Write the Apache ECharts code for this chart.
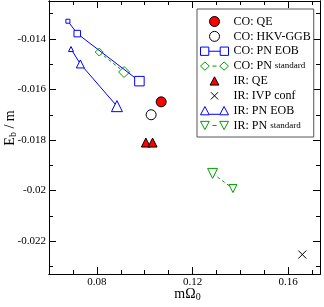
<!DOCTYPE html>
<html>
<head>
<meta charset="utf-8">
<script src="https://cdn.jsdelivr.net/npm/echarts@6/dist/echarts.min.js"></script>
<style>html,body{margin:0;padding:0;background:#fff}#c{width:324px;height:307px}</style>
</head>
<body>
<div id="c"></div>
<script>
// ---- data ----
const seriesNames = ['CO: QE', 'CO: HKV-GGB', 'CO: PN EOB', 'CO: PN standard', 'IR: QE', 'IR: IVP conf', 'IR: PN EOB', 'IR: PN standard'];
const coQE = [[0.1069, -0.01649]];
const coHKV = [[0.1027, -0.0170]];
const coPNEOB = [[0.0679, -0.0133], [0.0718, -0.01379], [0.0978, -0.01567]];
const coPNStd = [[0.0810, -0.01452], [0.0914, -0.01531]];
const irQE = [[0.1005, -0.0181], [0.1033, -0.0181]];
const irIVP = [[0.1659, -0.02253]];
const irPNEOB = [[0.0692, -0.0144], [0.0731, -0.01499], [0.0884, -0.01666]];
const irPNStd = [[0.1284, -0.01932], [0.1369, -0.01992]];
const xMajorTicks = [0.08, 0.12, 0.16];
const xMinorTicks = [0.06, 0.07, 0.08, 0.09, 0.10, 0.11, 0.12, 0.13, 0.14, 0.15, 0.16, 0.17];
const yMajorTicks = [-0.022, -0.020, -0.018, -0.016, -0.014];
const yMinorTicks = [-0.023, -0.022, -0.021, -0.020, -0.019, -0.018, -0.017, -0.016, -0.015, -0.014, -0.013];

// ---- styles (marker sizes per point) ----
const coPNEOBSizes = [4, 6.5, 9.5];
const coPNStdSizes = [8, 11];
const irPNEOBSizes = [5, 8, 11];
const irPNStdSizes = [10, 8];

const XMIN = 0.06, XMAX = 0.1733, YMIN = -0.0233, YMAX = -0.0125;
const FONT = 'Liberation Serif';
const BLUE = '#0000ff', GREEN = '#00a000', RED = '#ff0000';

function sized(arr, sizes) { return arr.map((p, i) => ({ value: p, symbolSize: sizes[i] })); }
const fmt = v => String(+(+v).toFixed(3));
const nameRich = {
  a: { fontFamily: FONT, fontSize: 14, color: '#000', lineHeight: 16 },
  s: { fontFamily: FONT, fontSize: 10, color: '#000', lineHeight: 16, padding: [7, 0, 0, 0] }
};

function xAxis(pos, major, labels) {
  return {
    type: 'value', position: pos, min: XMIN, max: XMAX,
    axisLine: { show: true, lineStyle: { color: '#000', width: 1 } },
    axisTick: { show: true, inside: true, length: major ? 7 : 4, customValues: major ? xMajorTicks : xMinorTicks, lineStyle: { color: '#000' } },
    axisLabel: labels ? { show: true, customValues: xMajorTicks, formatter: fmt, color: '#000', fontFamily: FONT, fontSize: 11, margin: 3 } : { show: false },
    splitLine: { show: false },
    name: labels ? '{a|mΩ}{s|0}' : '',
    nameLocation: 'middle', nameGap: 12, nameMoveOverlap: false,
    nameTextStyle: { padding: [0, 0, 0, 6], rich: nameRich }
  };
}
function yAxis(pos, major, labels) {
  return {
    type: 'value', position: pos, min: YMIN, max: YMAX,
    axisLine: { show: true, lineStyle: { color: '#000', width: 1 } },
    axisTick: { show: true, inside: true, length: major ? 7 : 4, customValues: major ? yMajorTicks : yMinorTicks, lineStyle: { color: '#000' } },
    axisLabel: labels ? { show: true, customValues: yMajorTicks, formatter: fmt, color: '#000', fontFamily: FONT, fontSize: 11, margin: 3 } : { show: false },
    splitLine: { show: false },
    name: labels ? '{a|E}{s|b}{a| / m}' : '',
    nameLocation: 'middle', nameGap: 31, nameRotate: 90, nameMoveOverlap: false,
    nameTextStyle: { padding: [0, 0, 0, 19], rich: nameRich }
  };
}

const iconSquares = 'path://M0.5,0.5H8.5V8.5H0.5Z M19.5,0.5H27.5V8.5H19.5Z M8.5,4.5H19.5';
const iconDiamonds = 'path://M0.5,4.5L4.75,0.5L9,4.5L4.75,8.5Z M19,4.5L23.25,0.5L27.5,4.5L23.25,8.5Z M12,4.5H16';
const iconTriUp = 'path://M0.5,8.5L4.75,0.5L9,8.5Z M19,8.5L23.25,0.5L27.5,8.5Z M9,8H19';
const iconTriDown = 'path://M0.5,0.5L4.75,8.5L9,0.5Z M19,0.5L23.25,8.5L27.5,0.5Z M12,4.5H16';
const iconTriSolo = 'path://M0.5,0.5M27.5,8.5M9.75,8.5L14,0.5L18.25,8.5Z';
const iconCross = 'path://M0.5,0.5M27.5,8.5M10.5,1L17.5,8M17.5,1L10.5,8';
const crossPath = 'path://M0,0L10,10M10,0L0,10';

const legendData = [
  { name: seriesNames[0], icon: 'circle', itemStyle: { color: RED, borderColor: '#000', borderWidth: 1 } },
  { name: seriesNames[1], icon: 'circle', itemStyle: { color: '#fff', borderColor: '#000', borderWidth: 1 } },
  { name: seriesNames[2], icon: iconSquares, itemStyle: { color: '#fff', borderColor: BLUE, borderWidth: 1 } },
  { name: seriesNames[3], icon: iconDiamonds, itemStyle: { color: '#fff', borderColor: GREEN, borderWidth: 1 } },
  { name: seriesNames[4], icon: iconTriSolo, itemStyle: { color: RED, borderColor: '#000', borderWidth: 1 } },
  { name: seriesNames[5], icon: iconCross, itemStyle: { color: 'transparent', borderColor: '#000', borderWidth: 1 } },
  { name: seriesNames[6], icon: iconTriUp, itemStyle: { color: '#fff', borderColor: BLUE, borderWidth: 1 } },
  { name: seriesNames[7], icon: iconTriDown, itemStyle: { color: '#fff', borderColor: GREEN, borderWidth: 1 } }
];

const chart = echarts.init(document.getElementById('c'), null, { renderer: 'canvas' });
chart.setOption({
  animation: false,
  backgroundColor: '#fff',
  grid: { left: 49, right: 4, top: 1, bottom: 33, containLabel: false, outerBoundsMode: 'none' },
  xAxis: [xAxis('bottom', false, false), xAxis('bottom', true, true), xAxis('top', false, false), xAxis('top', true, false)],
  yAxis: [yAxis('left', false, false), yAxis('left', true, true), yAxis('right', false, false), yAxis('right', true, false)],
  legend: {
    orient: 'vertical', left: 197, top: 9,
    padding: [6, 3, 5, 3],
    borderColor: '#555', borderWidth: 1, backgroundColor: '#fff',
    itemWidth: 28, itemHeight: 10, itemGap: 1.86,
    selectedMode: false,
    data: legendData,
    formatter: n => {
      const m = n.match(/^(.*PN )standard$/);
      return m ? '{t|' + m[1] + '}{s|standard}' : '{t|' + n + '}';
    },
    textStyle: {
      fontFamily: FONT, fontSize: 12, color: '#000', lineHeight: 13,
      rich: { t: { fontFamily: FONT, fontSize: 12, color: '#000', lineHeight: 13 }, s: { fontFamily: FONT, fontSize: 9, color: '#000', lineHeight: 13 } }
    }
  },
  series: [
    { name: seriesNames[0], type: 'scatter', xAxisIndex: 1, yAxisIndex: 1, data: coQE, symbol: 'circle', symbolSize: 10, itemStyle: { color: RED, borderColor: '#000', borderWidth: 1, opacity: 1 }, z: 5 },
    { name: seriesNames[1], type: 'scatter', xAxisIndex: 1, yAxisIndex: 1, data: coHKV, symbol: 'circle', symbolSize: 10, itemStyle: { color: '#fff', borderColor: '#000', borderWidth: 1, opacity: 1 }, z: 5 },
    { name: seriesNames[2], type: 'line', xAxisIndex: 1, yAxisIndex: 1, data: sized(coPNEOB, coPNEOBSizes), symbol: 'rect', showSymbol: true, showAllSymbol: true, lineStyle: { color: BLUE, width: 1 }, itemStyle: { color: '#fff', borderColor: BLUE, borderWidth: 1 }, z: 4 },
    { name: seriesNames[3], type: 'line', xAxisIndex: 1, yAxisIndex: 1, data: sized(coPNStd, coPNStdSizes), symbol: 'diamond', showSymbol: true, showAllSymbol: true, lineStyle: { color: GREEN, width: 1, type: [3, 3] }, itemStyle: { color: '#fff', borderColor: GREEN, borderWidth: 1 }, z: 3 },
    { name: seriesNames[4], type: 'scatter', xAxisIndex: 1, yAxisIndex: 1, data: irQE, symbol: 'triangle', symbolSize: 9, itemStyle: { color: RED, borderColor: '#000', borderWidth: 1, opacity: 1 }, z: 5 },
    { name: seriesNames[5], type: 'scatter', xAxisIndex: 1, yAxisIndex: 1, data: irIVP, symbol: crossPath, symbolSize: 8, itemStyle: { color: 'transparent', borderColor: '#000', borderWidth: 1, opacity: 1 }, z: 5 },
    { name: seriesNames[6], type: 'line', xAxisIndex: 1, yAxisIndex: 1, data: sized(irPNEOB, irPNEOBSizes), symbol: 'triangle', showSymbol: true, showAllSymbol: true, lineStyle: { color: BLUE, width: 1 }, itemStyle: { color: '#fff', borderColor: BLUE, borderWidth: 1 }, z: 4 },
    { name: seriesNames[7], type: 'line', xAxisIndex: 1, yAxisIndex: 1, data: sized(irPNStd, irPNStdSizes), symbol: 'triangle', symbolRotate: 180, showSymbol: true, showAllSymbol: true, lineStyle: { color: GREEN, width: 1, type: [3, 3] }, itemStyle: { color: '#fff', borderColor: GREEN, borderWidth: 1 }, z: 3 }
  ]
});
</script>
</body>
</html>
